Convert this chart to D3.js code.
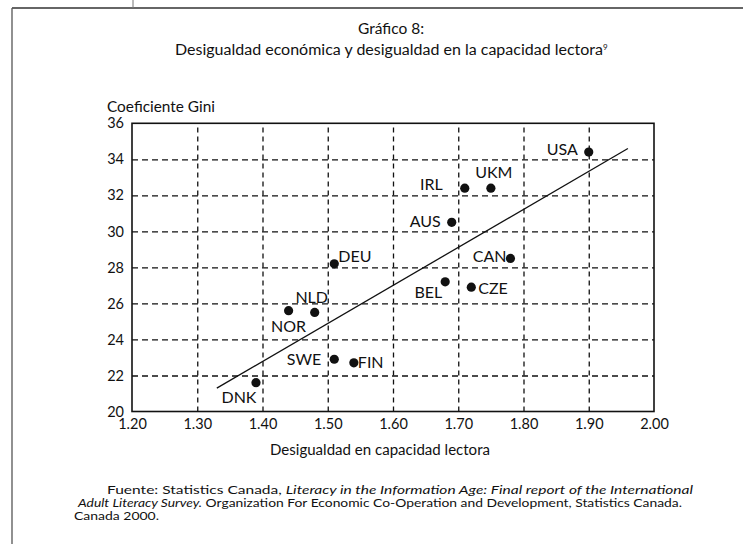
<!DOCTYPE html>
<html>
<head>
<meta charset="utf-8">
<script src="https://cdn.jsdelivr.net/npm/d3@7"></script>
<style>
  html, body { margin: 0; padding: 0; background: #fff; }
  svg { display: block; font-family: Lato, "Open Sans", sans-serif; }
</style>
</head>
<body>
<svg id="chart" width="743" height="544"></svg>
<script>
// ---- Data ----
const countries = ["USA", "IRL", "UKM", "AUS", "CAN", "BEL", "CZE", "DEU", "NOR", "NLD", "SWE", "FIN", "DNK"];
const readingInequality = [1.90, 1.71, 1.75, 1.69, 1.78, 1.68, 1.72, 1.51, 1.44, 1.48, 1.51, 1.54, 1.39];
const giniCoefficient = [34.4, 32.4, 32.4, 30.5, 28.5, 27.2, 26.9, 28.2, 25.6, 25.5, 22.9, 22.7, 21.6];
const trendX = [1.33, 1.96];
const trendY = [21.3, 34.6];
const xTicks = [1.20, 1.30, 1.40, 1.50, 1.60, 1.70, 1.80, 1.90, 2.00];
const yTicks = [20, 22, 24, 26, 28, 30, 32, 34, 36];

// ---- Layout (label placement relative to each dot) ----
const labelPlace = {
  USA: {dx: -11, dy: 3, anchor: "end"},
  IRL: {dx: -22, dy: 2, anchor: "end"},
  UKM: {dx: 3, dy: -10, anchor: "middle"},
  AUS: {dx: -11, dy: 5, anchor: "end"},
  CAN: {dx: -4, dy: 4, anchor: "end"},
  BEL: {dx: -3, dy: 16, anchor: "end"},
  CZE: {dx: 7, dy: 7, anchor: "start"},
  DEU: {dx: 4, dy: -2, anchor: "start"},
  NOR: {dx: 0, dy: 21, anchor: "middle"},
  NLD: {dx: -3, dy: -9, anchor: "middle"},
  SWE: {dx: -13, dy: 6, anchor: "end"},
  FIN: {dx: 4, dy: 5, anchor: "start"},
  DNK: {dx: -17, dy: 20, anchor: "middle"}
};

const svg = d3.select("#chart");
const plot = {left: 132, right: 654, top: 123.3, bottom: 411.5};

const x = d3.scaleLinear().domain([1.2, 2.0]).range([plot.left, plot.right]);
const y = d3.scaleLinear().domain([20, 36]).range([plot.bottom, plot.top]);

// page frame
svg.append("line").attr("x1", 12).attr("x2", 743).attr("y1", 8).attr("y2", 8)
  .attr("stroke", "#333").attr("stroke-width", 1.3);
svg.append("line").attr("x1", 12).attr("x2", 12).attr("y1", 8).attr("y2", 544)
  .attr("stroke", "#555").attr("stroke-width", 1.3);
svg.append("line").attr("x1", 133).attr("x2", 133).attr("y1", 0).attr("y2", 8)
  .attr("stroke", "#777").attr("stroke-width", 1);

// Title
svg.append("text").attr("x", 391).attr("y", 34).attr("text-anchor", "middle")
  .attr("font-size", 15.5).attr("fill", "#111").text("Gráfico 8:");
const t2 = svg.append("text").attr("x", 175).attr("y", 55)
  .attr("font-size", 15.5).attr("fill", "#111");
t2.append("tspan").text("Desigualdad económica y desigualdad en la capacidad lectora")
  .attr("textLength", 428).attr("lengthAdjust", "spacingAndGlyphs");
t2.append("tspan").attr("font-size", 8).attr("dy", -5).text("9");

// gridlines
const gridX = svg.append("g").attr("transform", `translate(0,${plot.bottom})`)
  .call(d3.axisBottom(x).tickValues(xTicks.slice(1, -1)).tickSize(-(plot.bottom - plot.top)).tickFormat(""));
gridX.select(".domain").remove();
gridX.selectAll("line").attr("stroke", "#111").attr("stroke-width", 1.3).attr("stroke-dasharray", "5,4");

const gridY = svg.append("g").attr("transform", `translate(${plot.left},0)`)
  .call(d3.axisLeft(y).tickValues(yTicks.slice(1, -1)).tickSize(-(plot.right - plot.left)).tickFormat(""));
gridY.select(".domain").remove();
gridY.selectAll("line").attr("stroke", "#111").attr("stroke-width", 1.3).attr("stroke-dasharray", "6,4");

// frame of the plot
svg.append("rect").attr("x", plot.left).attr("y", plot.top)
  .attr("width", plot.right - plot.left).attr("height", plot.bottom - plot.top)
  .attr("fill", "none").attr("stroke", "#111").attr("stroke-width", 1.6);

// Axes tick labels
const xAxis = svg.append("g").attr("transform", `translate(0,${plot.bottom})`)
  .call(d3.axisBottom(x).tickValues(xTicks).tickSize(0).tickPadding(7).tickFormat(d3.format(".2f")));
xAxis.select(".domain").remove();
xAxis.selectAll("text").attr("font-size", 14.5).attr("font-family", "Lato, sans-serif").attr("fill", "#111");

const yAxis = svg.append("g").attr("transform", `translate(${plot.left},0)`)
  .call(d3.axisLeft(y).tickValues(yTicks).tickSize(0).tickPadding(8));
yAxis.select(".domain").remove();
yAxis.selectAll("text").attr("font-size", 14.5).attr("font-family", "Lato, sans-serif").attr("fill", "#111");

// axis titles
svg.append("text").attr("x", 107).attr("y", 112).attr("font-size", 15.5).attr("fill", "#111")
  .attr("textLength", 108).attr("lengthAdjust", "spacingAndGlyphs")
  .text("Coeficiente Gini");
svg.append("text").attr("x", 270).attr("y", 455)
  .attr("font-size", 15.5).attr("fill", "#111")
  .attr("textLength", 220).attr("lengthAdjust", "spacingAndGlyphs")
  .text("Desigualdad en capacidad lectora");

// trend line
svg.append("line")
  .attr("x1", x(trendX[0])).attr("y1", y(trendY[0]))
  .attr("x2", x(trendX[1])).attr("y2", y(trendY[1]))
  .attr("stroke", "#111").attr("stroke-width", 1.3);

// points
const pts = countries.map((c, i) => ({c, vx: readingInequality[i], vy: giniCoefficient[i]}));
svg.append("g").selectAll("circle").data(pts).join("circle")
  .attr("cx", d => x(d.vx)).attr("cy", d => y(d.vy)).attr("r", 4.6).attr("fill", "#111");
svg.append("g").selectAll("text").data(pts).join("text")
  .attr("x", d => x(d.vx) + labelPlace[d.c].dx)
  .attr("y", d => y(d.vy) + labelPlace[d.c].dy)
  .attr("text-anchor", d => labelPlace[d.c].anchor)
  .attr("font-size", 16).attr("fill", "#111")
  .text(d => d.c);

// Source note
const f = svg.append("g").attr("font-size", 11.8).attr("fill", "#111");
const l1 = f.append("text").attr("x", 107).attr("y", 494).attr("textLength", 586).attr("lengthAdjust", "spacingAndGlyphs");
l1.append("tspan").text("Fuente: Statistics Canada, ");
l1.append("tspan").attr("font-style", "italic").text("Literacy  in the Information Age: Final report of the International");
const l2 = f.append("text").attr("x", 78).attr("y", 507).attr("textLength", 604).attr("lengthAdjust", "spacingAndGlyphs");
l2.append("tspan").attr("font-style", "italic").text("Adult Literacy Survey.");
l2.append("tspan").text(" Organization For Economic Co-Operation and Development, Statistics Canada.");
f.append("text").attr("x", 74).attr("y", 520).attr("textLength", 85).attr("lengthAdjust", "spacingAndGlyphs")
  .text("Canada 2000.");
</script>
</body>
</html>
